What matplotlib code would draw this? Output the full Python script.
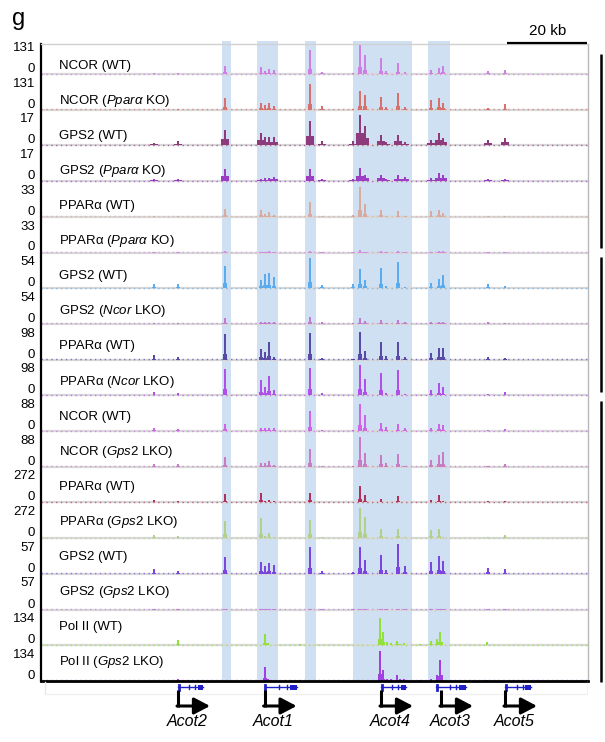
import matplotlib
matplotlib.use('Agg')
import matplotlib.pyplot as plt
import numpy as np

plt.rcParams['font.family'] = ['Liberation Sans', 'DejaVu Sans']
plt.rcParams['mathtext.fontset'] = 'custom'
plt.rcParams['mathtext.rm'] = 'Liberation Sans'
plt.rcParams['mathtext.it'] = 'Liberation Sans:italic'

# ---- data (positions in kb from left edge of the view) ----
# shared binding sites seen across most tracks
sites = [28.25, 34.25, 46.0, 55.0, 56.0, 57.0, 58.25, 67.25, 70.25, 78.0, 79.75,
         81.0, 85.0, 86.25, 89.25, 91.0, 97.5, 99.5, 100.5, 111.75, 116.0]

# signal at each site, relative to the track maximum
ncor_wt = [0.04, 0.05, 0.26, 0.22, 0.09, 0.16, 0.13, 0.81, 0.08, 0.03, 1.0,
           0.64, 0.53, 0.09, 0.37, 0.07, 0.13, 0.2, 0.28, 0.1, 0.15]
ncor_ppara_ko = [0.02, 0.03, 0.38, 0.21, 0.16, 0.21, 0.12, 0.84, 0.11, 0.03, 0.62,
                 0.5, 0.43, 0.09, 0.57, 0.08, 0.31, 0.4, 0.23, 0.05, 0.18]
gps2_wt_a = [0.08, 0.15, 0.52, 0.42, 0.28, 0.29, 0.28, 0.8, 0.13, 0.13, 1.0,
             0.64, 0.33, 0.12, 0.36, 0.1, 0.17, 0.42, 0.25, 0.17, 0.25]
gps2_ppara_ko = [0.06, 0.08, 0.42, 0.08, 0.1, 0.1, 0.14, 0.39, 0.06, 0.08, 0.43,
                 0.22, 0.22, 0.06, 0.2, 0.14, 0.09, 0.28, 0.22, 0.07, 0.08]
ppara_wt_a = [0.03, 0.03, 0.27, 0.22, 0.11, 0.16, 0.05, 0.5, 0.03, 0.05, 1.0,
              0.44, 0.22, 0.04, 0.19, 0.03, 0.19, 0.24, 0.13, 0.03, 0.04]
ppara_ppara_ko = [0.03, 0.03, 0.05, 0.03, 0.03, 0.06, 0.03, 0.05, 0.02, 0.03, 0.08,
                  0.03, 0.04, 0.02, 0.04, 0.02, 0.03, 0.05, 0.04, 0.03, 0.03]
gps2_wt_b = [0.15, 0.15, 0.73, 0.27, 0.47, 0.52, 0.36, 1.0, 0.11, 0.13, 0.63,
             0.27, 0.66, 0.08, 0.86, 0.05, 0.19, 0.3, 0.44, 0.15, 0.08]
gps2_ncor_lko = [0.03, 0.04, 0.19, 0.08, 0.08, 0.08, 0.08, 0.22, 0.05, 0.04, 0.19,
                 0.1, 0.13, 0.04, 0.13, 0.07, 0.07, 0.07, 0.07, 0.05, 0.03]
ppara_wt_b = [0.15, 0.08, 0.84, 0.34, 0.26, 0.6, 0.1, 0.88, 0.04, 0.02, 0.92,
              0.29, 0.59, 0.12, 0.58, 0.1, 0.22, 0.39, 0.39, 0.07, 0.05]
ppara_ncor_lko = [0.1, 0.08, 0.88, 0.51, 0.29, 0.64, 0.18, 0.91, 0.08, 0.02, 1.0,
                  0.56, 0.73, 0.09, 0.84, 0.04, 0.17, 0.4, 0.27, 0.05, 0.1]
ncor_wt_c = [0.1, 0.08, 0.24, 0.1, 0.1, 0.1, 0.1, 0.67, 0.03, 0.03, 0.91,
             0.52, 0.28, 0.13, 0.22, 0.1, 0.11, 0.24, 0.19, 0.05, 0.06]
ncor_gps2_lko = [0.08, 0.1, 0.33, 0.13, 0.13, 0.2, 0.05, 0.58, 0.03, 0.03, 1.0,
                 0.47, 0.39, 0.11, 0.44, 0.04, 0.24, 0.39, 0.48, 0.04, 0.1]
ppara_wt_c = [0.08, 0.06, 0.28, 0.3, 0.05, 0.08, 0.05, 0.33, 0.02, 0.02, 0.56,
              0.25, 0.13, 0.03, 0.22, 0.03, 0.09, 0.26, 0.05, 0.05, 0.05]
ppara_gps2_lko = [0.1, 0.08, 0.58, 0.66, 0.08, 0.17, 0.05, 0.6, 0.04, 0.02, 1.0,
                  0.69, 0.3, 0.03, 0.32, 0.05, 0.28, 0.3, 0.05, 0.04, 0.1]
gps2_wt_c = [0.15, 0.1, 0.57, 0.41, 0.26, 0.37, 0.28, 0.9, 0.09, 0.06, 0.9,
             0.46, 0.64, 0.14, 1.0, 0.26, 0.39, 0.58, 0.43, 0.2, 0.15]
gps2_gps2_lko = [0.02, 0.02, 0.03, 0.02, 0.02, 0.02, 0.02, 0.03, 0.02, 0.02, 0.03,
                 0.02, 0.03, 0.02, 0.03, 0.02, 0.02, 0.03, 0.02, 0.02, 0.02]

# Pol II has its own set of sites (promoters)
pol2_sites = [34.25, 56.0, 56.75, 64.75, 84.75, 85.5, 86.5, 87.5, 89.0, 89.75,
              90.75, 94.75, 97.5, 99.0, 99.75, 100.25, 111.5]
pol2_wt = [0.17, 0.36, 0.08, 0.04, 0.91, 0.43, 0.1, 0.06, 0.13, 0.05,
           0.08, 0.05, 0.13, 0.21, 0.43, 0.1, 0.1]
pol2_gps2_lko = [0.08, 0.47, 0.08, 0.02, 0.99, 0.36, 0.08, 0.08, 0.19, 0.08,
                 0.05, 0.03, 0.05, 0.19, 0.69, 0.19, 0.04]

track_names = ['NCOR (WT)', r'NCOR ($\mathit{Ppar\alpha}$ KO)', 'GPS2 (WT)',
               r'GPS2 ($\mathit{Ppar\alpha}$ KO)', 'PPARα (WT)',
               r'PPARα ($\mathit{Ppar\alpha}$ KO)', 'GPS2 (WT)',
               r'GPS2 ($\mathit{Ncor}$ LKO)', 'PPARα (WT)',
               r'PPARα $\mathit{(Ncor}$ LKO)', 'NCOR (WT)',
               r'NCOR $\mathit{(Gps2}$ LKO)', 'PPARα (WT)',
               r'PPARα $\mathit{(Gps2}$ LKO)', 'GPS2 (WT)',
               r'GPS2 $\mathit{(Gps2}$ LKO)', 'Pol II (WT)',
               r'Pol II $\mathit{(Gps2}$ LKO)']
track_max = [131, 131, 17, 17, 33, 33, 54, 54, 98, 98, 88, 88, 272, 272, 57, 57, 134, 134]
track_vals = [ncor_wt, ncor_ppara_ko, gps2_wt_a, gps2_ppara_ko, ppara_wt_a,
              ppara_ppara_ko, gps2_wt_b, gps2_ncor_lko, ppara_wt_b, ppara_ncor_lko,
              ncor_wt_c, ncor_gps2_lko, ppara_wt_c, ppara_gps2_lko, gps2_wt_c,
              gps2_gps2_lko, pol2_wt, pol2_gps2_lko]
track_colors = ['#cf7fe3', '#d6716d', '#8e3b7e', '#9b3ec4', '#d9ab9e', '#d08ee0',
                '#5aacee', '#c07ad0', '#5a4aa8', '#b050e8', '#cc66e6', '#c77cc4',
                '#b0305e', '#b2d08a', '#7b45e0', '#c080e0', '#92e03c', '#a040e0']

# highlighted regions (kb)
band_start = [45.25, 54.0, 66.0, 78.0, 96.75]
band_end = [47.5, 59.25, 68.75, 92.75, 102.25]

# genes (kb)
genes = ['Acot2', 'Acot1', 'Acot4', 'Acot3', 'Acot5']
gene_start = [34.25, 55.9, 85.0, 98.75, 116.0]
gene_end = [40.5, 64.0, 91.25, 106.25, 122.5]
gene_tss = [34.25, 55.9, 85.0, 100.0, 116.0]

# ---- layout (pixels) ----
W, H = 605, 742
X0, X1 = 41, 588
SPAN = (X1 - X0) / 4.0
fig = plt.figure(figsize=(W / 100, H / 100), dpi=100)


def rect(x0, y0, x1, y1):
    return [x0 / W, 1 - y1 / H, (x1 - x0) / W, (y1 - y0) / H]


# blue highlight bands
bg = fig.add_axes(rect(X0, 41, X1, 681))
bg.set_xlim(0, SPAN)
bg.set_ylim(0, 1)
bg.axis('off')
for s, e in zip(band_start, band_end):
    bg.axvspan(s, e, color='#cfe0f3', lw=0)

# signal tracks
for i in range(18):
    b = 74 + 35.7 * i
    ax = fig.add_axes(rect(X0, b - 30, X1, b))
    ax.set_facecolor('none')
    ax.set_xlim(0, SPAN)
    vmax = track_max[i]
    ax.set_ylim(0, vmax)
    ax.axis('off')
    c = track_colors[i]
    ax.axhline(0, color='#d8d8d8', lw=1.6, clip_on=False, zorder=1)
    ax.axhline(0.015 * vmax, color=c, lw=1.0, ls=(0, (1, 2.5)), alpha=0.7,
               clip_on=False, zorder=2)
    x = pol2_sites if i >= 16 else sites
    h = np.array(track_vals[i]) * vmax
    broad = i in (2, 3)
    ax.bar(x, h, width=0.45, color=c, lw=0, zorder=3)
    ax.bar(x, h * (0.4 if broad else 0.22), width=1.8 if broad else 1.0,
           color=c, lw=0, zorder=3)

    fig.text(35 / W, 1 - (b - 26) / H, str(vmax), ha='right', va='center', fontsize=9.5)
    fig.text(35 / W, 1 - (b - 5) / H, '0', ha='right', va='center', fontsize=9.5)
    fig.text(59 / W, 1 - (66 + 35.06 * i) / H, track_names[i], ha='left',
             va='center', fontsize=9.5)

# frame
fr = fig.add_axes(rect(X0, 44, X1, 681))
fr.set_facecolor('none')
fr.set_xticks([])
fr.set_yticks([])
fr.spines['left'].set_linewidth(1.6)
fr.spines['bottom'].set_linewidth(2.0)
fr.spines['top'].set_color('#d0d0d0')
fr.spines['right'].set_color('#b8b8b8')
fr.spines['top'].set_linewidth(1.0)
fr.spines['right'].set_linewidth(1.0)

# scale bar
hd = fig.add_axes(rect(X0, 20, X1, 50))
hd.set_xlim(0, SPAN)
hd.set_ylim(50, 20)
hd.axis('off')
hd.plot([SPAN - 20.2, SPAN - 0.2], [43, 43], color='k', lw=1.6, solid_capstyle='butt')
hd.text(SPAN - 10.2, 31, '20 kb', ha='center', va='center', fontsize=11)

# gene annotation
ga = fig.add_axes(rect(X0, 681, X1, 740))
ga.set_facecolor('none')
ga.set_xlim(0, SPAN)
ga.set_ylim(740, 681)
ga.axis('off')
ga.plot([SPAN, SPAN], [681, 694], color='#b8b8b8', lw=1.0)
ga.plot([1, 1], [682, 694], color='#e8e8e8', lw=1.0)
ga.plot([1, SPAN], [694, 694], color='#f0f0f0', lw=1.0)
blue = '#2020c8'
for name, s, e, t in zip(genes, gene_start, gene_end, gene_tss):
    L = e - s
    ga.plot([s, e], [687, 687], color=blue, lw=1.0)
    ga.plot([s + 0.2, s + 0.2], [684.5, 689.5], color=blue, lw=2.0)
    for f in (0.45, 0.68):
        ga.plot([s + f * L, s + f * L], [685, 689], color=blue, lw=1.0)
    ga.fill_between([s + 0.78 * L, e], 684.5, 689.5, color=blue, lw=0)
    ga.plot([t, t], [690, 707], color='k', lw=2.2, solid_capstyle='butt')
    ga.annotate('', xy=(t + 8.0, 706), xytext=(t - 0.25, 706),
                arrowprops=dict(arrowstyle='-|>,head_length=0.8,head_width=0.42',
                                lw=2.2, color='k', shrinkA=0, shrinkB=0,
                                mutation_scale=12))
    ga.text(t + 2.2, 722, name, style='italic', ha='center', va='center', fontsize=11.5)

# group brackets on the right
ov = fig.add_axes([0, 0, 1, 1])
ov.set_facecolor('none')
ov.set_xlim(0, W)
ov.set_ylim(H, 0)
ov.axis('off')
for y0, y1 in [(54, 248), (257, 392), (401, 682)]:
    ov.plot([601, 601], [y0, y1], color='k', lw=1.8, solid_capstyle='butt')

fig.text(12 / W, 1 - 19 / H, 'g', fontsize=17, ha='left', va='center')

fig.savefig('out.png', dpi=100)
